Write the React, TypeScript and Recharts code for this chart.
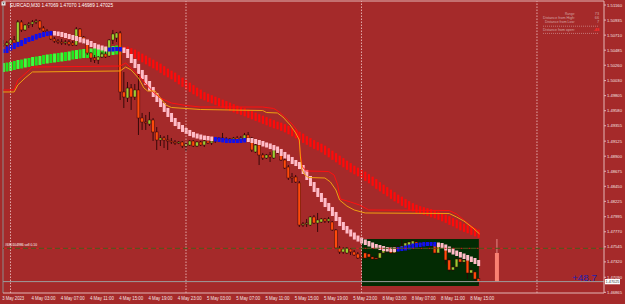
import React from "react";
import { ComposedChart, Bar, Line, XAxis, YAxis, ReferenceLine, ReferenceArea } from "recharts";

// EURCAD M30, first visible bar is 3 May 23:00 (index -2), 4 May 00:00 is index 0
const FIRST_BAR = -2;

// [open, high, low, close]
const candles: [number, number, number, number][] = [
  [1.50577, 1.50637, 1.50532, 1.50562], [1.50562, 1.50622, 1.50532, 1.50592],
  [1.50592, 1.50667, 1.50562, 1.50637], [1.50637, 1.50697, 1.50607, 1.50607],
  [1.50607, 1.50936, 1.50577, 1.50906], [1.50906, 1.50936, 1.50757, 1.50787],
  [1.50787, 1.50876, 1.50772, 1.50861], [1.50861, 1.50906, 1.50816, 1.50876],
  [1.50876, 1.50936, 1.50831, 1.50906], [1.50906, 1.50951, 1.50876, 1.50921],
  [1.50921, 1.50936, 1.50787, 1.50816], [1.50816, 1.50846, 1.50742, 1.50772],
  [1.50772, 1.50801, 1.50727, 1.50757], [1.50757, 1.50772, 1.50637, 1.50652],
  [1.50652, 1.50682, 1.50592, 1.50622], [1.50622, 1.50652, 1.50577, 1.50607],
  [1.50607, 1.50652, 1.50562, 1.50592], [1.50592, 1.50637, 1.50562, 1.50607],
  [1.50607, 1.50637, 1.50547, 1.50577], [1.50592, 1.50622, 1.50547, 1.50562],
  [1.50562, 1.50831, 1.50547, 1.50801], [1.50801, 1.50816, 1.50667, 1.50682],
  [1.50682, 1.50697, 1.50577, 1.50607], [1.50607, 1.50622, 1.50413, 1.50443],
  [1.50443, 1.50458, 1.50308, 1.50368], [1.50368, 1.50413, 1.50293, 1.50338],
  [1.50338, 1.50398, 1.50278, 1.50383], [1.50383, 1.50458, 1.50368, 1.50428],
  [1.50428, 1.50488, 1.50368, 1.50383], [1.50398, 1.50652, 1.50383, 1.50637],
  [1.50637, 1.50787, 1.50577, 1.50727], [1.50667, 1.50757, 1.50607, 1.50742],
  [1.50742, 1.50772, 1.49740, 1.49860], [1.49860, 1.50159, 1.49620, 1.49785],
  [1.49770, 1.50009, 1.49710, 1.49919], [1.49919, 1.49979, 1.49591, 1.49785],
  [1.49785, 1.49979, 1.49740, 1.49890], [1.49890, 1.50159, 1.49217, 1.49471],
  [1.49471, 1.49546, 1.49292, 1.49411], [1.49411, 1.49516, 1.49292, 1.49396],
  [1.49381, 1.49561, 1.49351, 1.49441], [1.49441, 1.49471, 1.49127, 1.49262],
  [1.49262, 1.49336, 1.48993, 1.49142], [1.49142, 1.49217, 1.49052, 1.49172],
  [1.49172, 1.49202, 1.49022, 1.49142], [1.49142, 1.49217, 1.48993, 1.49127],
  [1.49127, 1.49172, 1.49082, 1.49112], [1.49112, 1.49142, 1.49067, 1.49097],
  [1.49097, 1.49127, 1.49082, 1.49112], [1.49112, 1.49127, 1.49022, 1.49052],
  [1.49052, 1.49112, 1.48963, 1.49082], [1.49067, 1.49142, 1.49052, 1.49127],
  [1.49127, 1.49142, 1.49037, 1.49052], [1.49052, 1.49127, 1.49037, 1.49112],
  [1.49112, 1.49127, 1.49052, 1.49067], [1.49067, 1.49142, 1.49037, 1.49127],
  [1.49127, 1.49157, 1.49082, 1.49097], [1.49097, 1.49142, 1.49067, 1.49127],
  [1.49127, 1.49172, 1.49097, 1.49157], [1.49157, 1.49187, 1.49112, 1.49172],
  [1.49172, 1.49247, 1.49127, 1.49157], [1.49157, 1.49187, 1.49112, 1.49142],
  [1.49142, 1.49172, 1.49112, 1.49157], [1.49157, 1.49187, 1.49127, 1.49172],
  [1.49172, 1.49202, 1.49127, 1.49142], [1.49142, 1.49202, 1.49127, 1.49172],
  [1.49142, 1.49247, 1.49127, 1.49217], [1.49217, 1.49262, 1.49157, 1.49172],
  [1.49172, 1.49187, 1.48963, 1.48993], [1.48963, 1.49097, 1.48948, 1.49067],
  [1.49067, 1.49097, 1.48768, 1.48918], [1.48918, 1.48948, 1.48843, 1.48873],
  [1.48873, 1.48933, 1.48858, 1.48918], [1.48918, 1.48963, 1.48813, 1.48888],
  [1.48873, 1.49007, 1.48858, 1.48993], [1.48993, 1.49007, 1.48933, 1.48963],
  [1.48963, 1.48993, 1.48828, 1.48843], [1.48843, 1.48873, 1.48708, 1.48723],
  [1.48738, 1.48768, 1.48544, 1.48574], [1.48589, 1.48649, 1.48499, 1.48574],
  [1.48589, 1.48619, 1.48499, 1.48514], [1.48499, 1.48529, 1.47841, 1.47871],
  [1.47871, 1.47916, 1.47841, 1.47886], [1.47886, 1.47961, 1.47841, 1.47901],
  [1.47871, 1.48006, 1.47856, 1.47991], [1.47991, 1.48021, 1.47886, 1.47901],
  [1.47901, 1.48051, 1.47767, 1.47946], [1.47916, 1.47976, 1.47901, 1.47961],
  [1.47961, 1.47976, 1.47901, 1.47931], [1.47931, 1.47991, 1.47901, 1.47961],
  [1.47916, 1.47931, 1.47782, 1.47797], [1.47797, 1.47811, 1.47512, 1.47527],
  [1.47527, 1.47557, 1.47438, 1.47468], [1.47468, 1.47542, 1.47438, 1.47512],
  [1.47453, 1.47542, 1.47438, 1.47527], [1.47512, 1.47527, 1.47423, 1.47468],
  [1.47468, 1.47498, 1.47408, 1.47423], [1.47438, 1.47468, 1.47363, 1.47378],
  [1.47393, 1.47423, 1.47348, 1.47378], [1.47453, 1.47468, 1.47363, 1.47378],
  [1.47438, 1.47468, 1.47378, 1.47393], [1.47393, 1.47408, 1.47348, 1.47363],
  [1.47378, 1.47408, 1.47348, 1.47363], [1.47378, 1.47468, 1.47363, 1.47453],
  [1.47453, 1.47527, 1.47438, 1.47498], [1.47498, 1.47527, 1.47453, 1.47483],
  [1.47512, 1.47542, 1.47438, 1.47453], [1.47453, 1.47557, 1.47438, 1.47542],
  [1.47527, 1.47572, 1.47483, 1.47512], [1.47512, 1.47647, 1.47498, 1.47557],
  [1.47527, 1.47617, 1.47512, 1.47602], [1.47557, 1.47632, 1.47542, 1.47617],
  [1.47572, 1.47647, 1.47557, 1.47632], [1.47617, 1.47647, 1.47557, 1.47572],
  [1.47572, 1.47617, 1.47542, 1.47602], [1.47602, 1.47617, 1.47557, 1.47572],
  [1.47572, 1.47632, 1.47557, 1.47602], [1.47602, 1.47617, 1.47572, 1.47587],
  [1.47587, 1.47602, 1.47438, 1.47453], [1.47453, 1.47587, 1.47438, 1.47572],
  [1.47572, 1.47587, 1.47512, 1.47542], [1.47542, 1.47572, 1.47288, 1.47348],
  [1.47348, 1.47378, 1.47169, 1.47199], [1.47199, 1.47258, 1.47184, 1.47243],
  [1.47243, 1.47378, 1.47228, 1.47363], [1.47363, 1.47393, 1.47288, 1.47318],
  [1.47318, 1.47363, 1.47303, 1.47348], [1.47348, 1.47378, 1.47064, 1.47154],
  [1.47154, 1.47228, 1.47124, 1.47199], [1.47169, 1.47199, 1.47019, 1.47064],
  [1.47069, 1.47070, 1.46989, 1.47025],
];

// pink / blue trend ribbon, one value per candle
const trendLine = [
  // -2 .. 11
  1.50473, 1.5051, 1.50532, 1.50562, 1.50577, 1.50607, 1.50637, 1.50652, 1.50674, 1.50697, 1.50712, 1.50727, 1.50734, 1.50742,
  // 12 .. 26
  1.50734, 1.50727, 1.50712, 1.50697, 1.50682, 1.50667, 1.50652, 1.5063, 1.50615, 1.50592, 1.50562, 1.5054, 1.50525, 1.5051, 1.50495,
  // 27 .. 30
  1.50495, 1.50502, 1.50502, 1.50495,
  // 31 .. 55
  1.50473, 1.50398, 1.50323, 1.50248, 1.50159, 1.50084, 1.49994, 1.49904, 1.49815, 1.4974, 1.49665, 1.49591, 1.49516,
  1.49441, 1.49381, 1.49336, 1.49292, 1.49262, 1.49232, 1.49209, 1.49194, 1.49179, 1.49172, 1.49164, 1.49157,
  // 56 .. 64
  1.49149, 1.49142, 1.49135, 1.49127, 1.49127, 1.49127, 1.49127, 1.49135, 1.49142,
  // 65 .. 105
  1.49142, 1.49127, 1.49112, 1.49097, 1.49075, 1.4906, 1.49037, 1.49015, 1.48978, 1.48933, 1.48895, 1.48858, 1.48813,
  1.48783, 1.48738, 1.48664, 1.48574, 1.48484, 1.48395, 1.4832, 1.48245, 1.4817, 1.4811, 1.48036, 1.47961, 1.47886,
  1.47826, 1.47774, 1.47729, 1.47684, 1.47654, 1.47625, 1.47602, 1.4758, 1.47557, 1.47542, 1.47527, 1.47512, 1.47505,
  1.47498, 1.47505,
  // 106 .. 116
  1.47512, 1.4752, 1.47535, 1.4755, 1.47565, 1.47572, 1.4758, 1.47587, 1.47587, 1.47587, 1.4758,
  // 117 .. 128
  1.47572, 1.4755, 1.4752, 1.4749, 1.4746, 1.47438, 1.47415, 1.47393, 1.4737, 1.47348, 1.47318, 1.47288,
];
const trendBlueRuns: [number, number][] = [[-2, 11], [27, 30], [56, 64], [106, 116]];

// green ribbon, bars -2 .. 30
const greenRibbon = [
  1.50226, 1.50233, 1.50241, 1.50256, 1.50271, 1.50278, 1.50293, 1.50301, 1.50316, 1.50323, 1.50331,
  1.50345, 1.50353, 1.5036, 1.50368, 1.50375, 1.50383, 1.5039, 1.50398, 1.50413, 1.5042, 1.50428,
  1.50435, 1.50435, 1.50443, 1.5045, 1.5045, 1.50458, 1.50465, 1.50473, 1.5048, 1.50488, 1.50488,
];

// red ribbon, bars 31 .. 128
const RED_RIBBON_FROM = 31;
const redRibbon = [
  1.50488, 1.50465, 1.50443, 1.50413, 1.50383, 1.50353, 1.50323, 1.50293, 1.50263, 1.50233, 1.50196, 1.50159,
  1.50129, 1.50099, 1.50061, 1.50024, 1.49987, 1.49949, 1.49912, 1.49875, 1.49845, 1.49807, 1.49785, 1.49762,
  1.4974, 1.49718, 1.49695, 1.49673, 1.4965, 1.49628, 1.49605, 1.49583, 1.49568, 1.49546, 1.49523, 1.49501,
  1.49478, 1.49456, 1.49434, 1.49411, 1.49389, 1.49366, 1.49351, 1.49329, 1.49306, 1.49277, 1.49247, 1.49217,
  1.49187, 1.49149, 1.4912, 1.4909, 1.4906, 1.49037, 1.49007, 1.4897, 1.48933, 1.48895, 1.48858, 1.48821,
  1.48783, 1.48746, 1.48708, 1.48679, 1.48649, 1.48619, 1.48581, 1.48544, 1.48507, 1.48462, 1.48424, 1.48387,
  1.4835, 1.48312, 1.48275, 1.48245, 1.48208, 1.48178, 1.48148, 1.48125, 1.48103, 1.48088, 1.48073, 1.48058,
  1.48036, 1.48021, 1.47998, 1.47976, 1.47953, 1.47924, 1.47901, 1.47871, 1.47841, 1.47819, 1.47797, 1.47774,
  1.47752, 1.47729,
];

// thin channel lines, vertices [bar, price]
const orangeLine: [number, number][] = [
  [-2, 1.4986], [1, 1.4986], [2, 1.49964], [4, 1.50069], [6, 1.50159], [30, 1.50174], [31.5, 1.50233],
  [33, 1.50189], [35, 1.50069], [36.5, 1.49919], [37.5, 1.49875], [39.5, 1.49875], [41, 1.4977],
  [42.5, 1.49665], [44, 1.49628], [52, 1.49598], [69, 1.49583], [70, 1.49553], [73, 1.49546],
  [74.5, 1.49486], [76.5, 1.49366], [78, 1.49247], [79, 1.49142], [79.3, 1.48888], [79.7, 1.48708],
  [80.5, 1.48619], [81.5, 1.48581], [86, 1.48574], [87.5, 1.48514], [89, 1.48395], [90, 1.48245],
  [92, 1.48155], [94, 1.48096], [97, 1.48051], [120, 1.48043], [122, 1.47991], [124, 1.47931],
  [126.5, 1.47826], [128.3, 1.47737],
];
const redLine: [number, number][] = [
  [-2, 1.4989], [1, 1.4989], [2, 1.50039], [3, 1.50084], [6, 1.50233], [30, 1.50248], [31.5, 1.50293],
  [33, 1.50218], [35, 1.50114], [37, 1.49979], [39, 1.4986], [41, 1.4977], [44, 1.49695], [48, 1.49658],
  [52, 1.49635], [69, 1.49635], [72, 1.49613], [73.5, 1.49561], [75, 1.49486], [77, 1.49381],
  [78.5, 1.49277], [79.2, 1.48993], [79.8, 1.48738], [81, 1.48679], [87, 1.48671], [88.5, 1.48619],
  [89.5, 1.48469], [90.2, 1.4826], [93, 1.48215], [95.5, 1.4817], [98, 1.48096], [120, 1.48088],
  [122, 1.48036], [124, 1.47946], [126, 1.47856], [128.3, 1.47767],
];

const timeTicks = [-2, 6, 14, 22, 30, 38, 46, 54, 62, 70, 78, 86, 94, 102, 110, 118, 126];
const timeLabels = [
  "3 May 2023", "4 May 03:00", "4 May 07:00", "4 May 11:00", "4 May 15:00", "4 May 19:00",
  "4 May 23:00", "5 May 03:00", "5 May 07:00", "5 May 11:00", "5 May 15:00", "5 May 19:00",
  "5 May 23:00", "8 May 03:00", "8 May 07:00", "8 May 11:00", "8 May 15:00",
];
const priceTicks = [
  1.5116, 1.50935, 1.5071, 1.50485, 1.5026, 1.5003, 1.49805, 1.4958, 1.49355, 1.49125,
  1.489, 1.48675, 1.4845, 1.48225, 1.47995, 1.4777, 1.47545, 1.4732, 1.4709, 1.46865,
];

const daySeparators = [0, 48, 96, 144];
const todayBar = { i: 133, high: 1.47662, open: 1.47453, low: 1.47025 };
const orderPrice = 1.47523;
const bidPrice = 1.47025;
const zone = { from: 96.1, to: 128.1, low: 1.46959, high: 1.47662 };

const X_DOMAIN: [number, number] = [-2.05, 162.33];
const Y_DOMAIN: [number, number] = [1.468547, 1.512201];
const TREND_PAD = 0.0003;
const RED_PAD = 0.0005;
const GREEN_PAD = 0.00067;

const FONT = "Liberation Sans, Arial, sans-serif";
const BG = "#a52a2a";
const FRAME = "#e3b5b5";

const isBlue = (i: number) => trendBlueRuns.some(([a, b]) => i >= a && i <= b);

const rows: any[] = candles.map(([o, h, l, c], n) => {
  const i = FIRST_BAR + n;
  const t = trendLine[n];
  const tp = n > 0 ? trendLine[n - 1] : t;
  const r = i >= RED_RIBBON_FROM ? redRibbon[i - RED_RIBBON_FROM] : null;
  const rp = i > RED_RIBBON_FROM ? redRibbon[i - RED_RIBBON_FROM - 1] : r;
  const g = n < greenRibbon.length ? greenRibbon[n] : null;
  return {
    i, o, h, l, c,
    candle: [l, h],
    trend: [Math.min(t, tp) - TREND_PAD, Math.max(t, tp) + TREND_PAD],
    blue: isBlue(i),
    red: r == null ? null : [Math.min(r, rp as number) - RED_PAD, Math.max(r, rp as number) + RED_PAD],
    green: g == null ? null : [g - GREEN_PAD, g + GREEN_PAD],
  };
});
rows.push({ i: todayBar.i, day: [todayBar.low, todayBar.high], dayOpen: todayBar.open, dayHigh: todayBar.high, dayLow: todayBar.low });

const box = (props: any) => {
  const top = Math.min(props.y, props.y + props.height);
  return { cx: props.x + props.width / 2, top, span: Math.abs(props.height) };
};

const CandleShape = (props: any) => {
  const p = props.payload;
  if (!p || p.o == null) return <g />;
  const { cx, top, span } = box(props);
  const k = span / (p.h - p.l || 1);
  const py = (v: number) => top + (p.h - v) * k;
  const bTop = py(Math.max(p.o, p.c));
  const bBot = py(Math.min(p.o, p.c));
  const flat = Math.abs(p.c - p.o) < 0.0001;
  const fill = flat ? "#2a0606" : p.c > p.o ? "#9acd32" : "#ff4a0a";
  return (
    <g>
      <line x1={cx} x2={cx} y1={top} y2={top + span} stroke="#2a0606" strokeWidth={0.9} />
      <rect x={cx - 1.4} y={bTop} width={2.8} height={Math.max(bBot - bTop, 1)} fill={fill} stroke="#3a0808" strokeWidth={0.5} />
    </g>
  );
};

const block = (key: string, w: number, color: (p: any) => string) => (props: any) => {
  const p = props.payload;
  if (!p || p[key] == null) return <g />;
  const { cx, top, span } = box(props);
  return <rect x={cx - w / 2} y={top} width={w} height={Math.max(span, 1)} fill={color(p)} />;
};

const TrendShape = block("trend", 3, (p) => (p.blue ? "#1010f0" : "#ffbcc8"));
const RedShape = block("red", 2.2, () => "#ff0a0a");
const GreenShape = block("green", 3, (p) => (p.i % 2 ? "#1ee61e" : "#3cff3c"));

const DayShape = (props: any) => {
  const p = props.payload;
  if (!p || p.day == null) return <g />;
  const { cx, top, span } = box(props);
  const k = span / (p.dayHigh - p.dayLow);
  const openY = top + (p.dayHigh - p.dayOpen) * k;
  return (
    <g>
      <line x1={cx} x2={cx} y1={top} y2={openY} stroke="#f4a0a0" strokeWidth={0.8} />
      <rect x={cx - 2} y={openY} width={4} height={top + span - openY} fill="#fa8072" />
    </g>
  );
};

const PriceTick = (props: any) => {
  const { x, y, payload } = props;
  return (
    <text x={x} y={y + 1.55} fontSize={4.3} fontFamily={FONT} fill="#f3e3e3" textLength={15} lengthAdjust="spacingAndGlyphs">
      {Number(payload.value).toFixed(5)}
    </text>
  );
};

const TimeTick = (props: any) => {
  const { x, y, payload } = props;
  const label = timeLabels[timeTicks.indexOf(payload.value)] ?? "";
  return (
    <text x={x - 1} y={y + 6.6} fontSize={4.6} fontFamily={FONT} fill="#f3e3e3" textLength={label.length > 10 ? 24 : 22} lengthAdjust="spacingAndGlyphs">
      {label}
    </text>
  );
};

const infoRows = [
  { name: "Range:", value: "73", y: 14.6, w: 10 },
  { name: "Distance from High:", value: "66", y: 19, w: 32 },
  { name: "Distance from Low:", value: "7", y: 23.3, w: 30 },
  { name: "Distance from open:", value: "-48", y: 30.6, w: 32, alert: true },
];

export default function App() {
  return (
    <div style={{ position: "absolute", left: 0, top: 0, width: 625, height: 304, background: BG, overflow: "hidden" }}>
      <ComposedChart width={625} height={304} data={rows} margin={{ top: 1, right: 0, bottom: 0, left: 3 }} style={{ background: BG }}>
        <XAxis
          type="number"
          dataKey="i"
          domain={X_DOMAIN}
          allowDataOverflow
          ticks={timeTicks}
          interval={0}
          height={11}
          tickSize={0}
          tickMargin={0}
          tickLine={false}
          axisLine={{ stroke: FRAME }}
          tick={TimeTick}
        />
        <XAxis xAxisId="t" type="number" dataKey="i" domain={X_DOMAIN} allowDataOverflow hide />
        <XAxis xAxisId="r" type="number" dataKey="i" domain={X_DOMAIN} allowDataOverflow hide />
        <XAxis xAxisId="g" type="number" dataKey="i" domain={X_DOMAIN} allowDataOverflow hide />
        <XAxis xAxisId="d" type="number" dataKey="i" domain={X_DOMAIN} allowDataOverflow hide />
        <YAxis
          orientation="right"
          type="number"
          domain={Y_DOMAIN}
          allowDataOverflow
          ticks={priceTicks}
          interval={0}
          width={21}
          tickSize={2}
          tickMargin={1}
          axisLine={{ stroke: FRAME }}
          tickLine={{ stroke: FRAME }}
          tick={PriceTick}
        />

        <ReferenceArea x1={zone.from} x2={zone.to} y1={zone.low} y2={zone.high} fill="#032b03" fillOpacity={1} stroke="none" />
        <ReferenceLine y={Y_DOMAIN[1]} stroke={FRAME} />
        <ReferenceLine x={X_DOMAIN[0]} stroke="#8c8c8c" />
        {daySeparators.map((d) => (
          <ReferenceLine key={d} x={d} stroke="#e2aaaa" strokeDasharray="1.5 1.5" />
        ))}

        <Bar dataKey="green" xAxisId="g" barSize={2} shape={GreenShape} isAnimationActive={false} />
        <Bar dataKey="candle" barSize={2} shape={CandleShape} isAnimationActive={false} />
        <Bar dataKey="red" xAxisId="r" barSize={2} shape={RedShape} isAnimationActive={false} />
        <Bar dataKey="trend" xAxisId="t" barSize={2} shape={TrendShape} isAnimationActive={false} />
        <Bar dataKey="day" xAxisId="d" barSize={2} shape={DayShape} isAnimationActive={false} />

        <Line data={redLine.map(([i, p]) => ({ i, p }))} dataKey="p" type="linear" stroke="#ff1010" strokeWidth={1} dot={false} isAnimationActive={false} />
        <Line data={orangeLine.map(([i, p]) => ({ i, p }))} dataKey="p" type="linear" stroke="#f0a010" strokeWidth={1} dot={false} isAnimationActive={false} />

        <ReferenceLine y={orderPrice} stroke="#e02020" strokeDasharray="0 5.5 2 0.5" />
        <ReferenceLine y={orderPrice} stroke="#4a5a1c" strokeDasharray="5 3" />
        <ReferenceLine y={bidPrice} stroke="#9c9c9c" />
      </ComposedChart>

      <svg width={625} height={304} style={{ position: "absolute", left: 0, top: 0, pointerEvents: "none" }}>
        <rect x={1.5} y={1.5} width={4} height={4} fill="#e8e8e8" />
        <path d="M2.3 2.6 L4.7 2.6 L3.5 4.6 Z" fill="#555" />
        <text x={10} y={6.8} fontSize={4.6} fontFamily={FONT} fill="#ffffff" textLength={103} lengthAdjust="spacingAndGlyphs">
          EURCAD,M30  1.47069 1.47070 1.46989 1.47025
        </text>

        {infoRows.map((r) => (
          <g key={r.name}>
            <text x={575} y={r.y} fontSize={3.8} fontFamily={FONT} fill="#d4a6a6" textAnchor="end" textLength={r.w} lengthAdjust="spacingAndGlyphs">
              {r.name}
            </text>
            <text x={599} y={r.y} fontSize={3.8} fontFamily={FONT} fill={r.alert ? "#ff2a2a" : "#d4a6a6"} textAnchor="end" fontWeight={r.alert ? "bold" : "normal"}>
              {r.value}
            </text>
          </g>
        ))}
        <line x1={543} x2={599} y1={26.2} y2={26.2} stroke="#d8aaaa" strokeWidth={0.6} strokeDasharray="1 1" />
        <line x1={543} x2={599} y1={33.4} y2={33.4} stroke="#d8aaaa" strokeWidth={0.6} strokeDasharray="1 1" />

        <text x={5} y={246} fontSize={4.2} fontFamily={FONT} fill="#ffffff" textLength={32} lengthAdjust="spacingAndGlyphs">
          #680104986 sell 0.10
        </text>

        <text x={572} y={280.6} fontSize={8.6} fontFamily={FONT} fill="#2020b0" textLength={25} lengthAdjust="spacingAndGlyphs">
          +48.7
        </text>

        <rect x={605} y={279} width={15} height={5.3} fill="#ffffff" />
        <text x={605.5} y={283.1} fontSize={4.3} fontFamily={FONT} fill="#333333" textLength={14} lengthAdjust="spacingAndGlyphs">
          1.47025
        </text>
      </svg>
    </div>
  );
}
